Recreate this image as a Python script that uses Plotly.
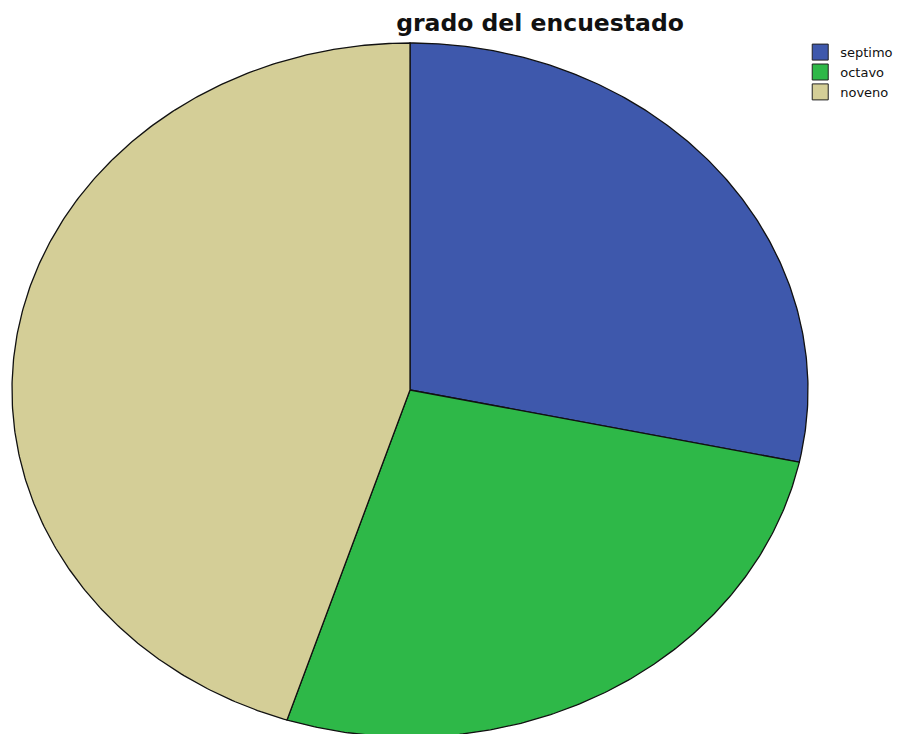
import numpy as np
import plotly.graph_objects as go

title = "grado del encuestado"
categories = ["septimo", "octavo", "noveno"]
counts = [17, 16, 27]
colors = ["#3E58AC", "#2EB848", "#D4CE97"]

fig = go.Figure()
total = float(sum(counts))
start = 0.0
for name, val, col in zip(categories, counts, colors):
    end = start + val / total
    th = np.linspace(start, end, max(int((end - start) * 720), 2)) * 2 * np.pi
    xs = np.concatenate([[0.0], np.sin(th), [0.0]])
    ys = np.concatenate([[0.0], np.cos(th), [0.0]])
    fig.add_trace(go.Scatter(x=xs, y=ys, mode="lines", fill="toself", fillcolor=col,
                             line=dict(color="#111111", width=1.3), showlegend=False,
                             hoverinfo="skip", name=name))
    fig.add_trace(go.Scatter(x=[None], y=[None], mode="markers", name=name,
                             marker=dict(symbol="square", size=16, color=col,
                                         line=dict(color="#222222", width=1))))
    start = end

# page is offset by the default 8px body margin
rx_pad = 1 / 398
ry_pad = 1 / 347
fig.update_layout(
    width=902, height=734,
    margin=dict(l=3, r=101, t=34, b=8),
    paper_bgcolor="white", plot_bgcolor="white",
    xaxis=dict(range=[-1 - rx_pad, 1 + rx_pad], visible=False, fixedrange=True),
    yaxis=dict(range=[-(734 - 390) / 347, 1 + ry_pad], visible=False, fixedrange=True),
    title=dict(text="<b>" + title + "</b>", x=532 / 902, xref="container", xanchor="center",
               y=1 - 15 / 734, yref="container", yanchor="middle",
               font=dict(family="DejaVu Sans", size=23.5, color="#111111")),
    legend=dict(x=0.989, y=1.007, xanchor="left", yanchor="top", xref="paper", yref="paper",
                font=dict(family="DejaVu Sans", size=13, color="#111111"),
                bgcolor="rgba(0,0,0,0)", borderwidth=0, tracegroupgap=0),
    showlegend=True,
)

fig.write_html("out.html")
